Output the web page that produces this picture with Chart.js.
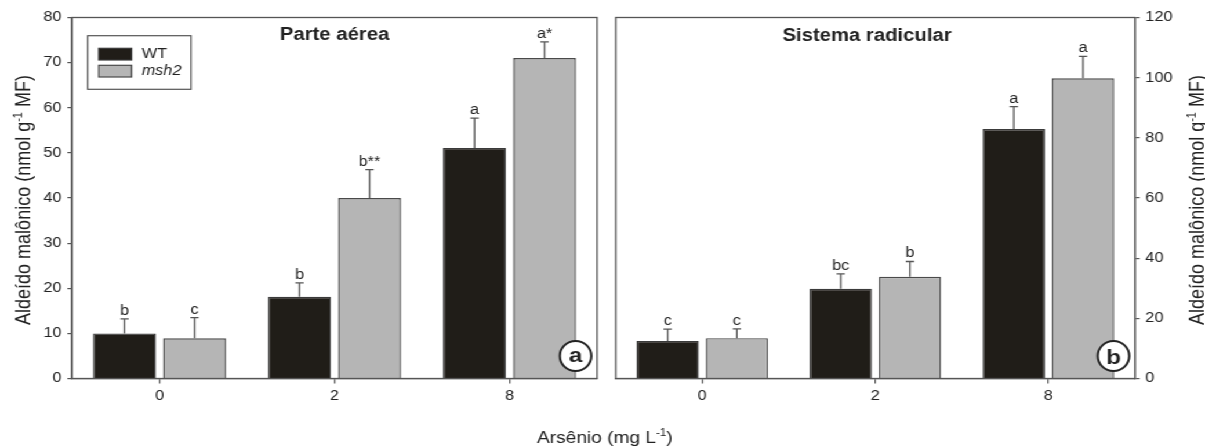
<!DOCTYPE html>
<html>
<head>
<meta charset="utf-8">
<script src="https://cdn.jsdelivr.net/npm/chart.js@4.4.1/dist/chart.umd.min.js"></script>
<style>
  html, body { margin: 0; padding: 0; background: #fff; overflow: hidden; }
  /* the figure is drawn on a narrower canvas and widened horizontally */
  #wrap { position: relative; width: 1039px; height: 446px; transform: scaleX(1.15977); transform-origin: 0 0; }
  #wrap canvas { position: absolute; left: 0; top: 0; }
</style>
</head>
<body>
<div id="wrap">
  <canvas id="shoot" width="1039" height="446"></canvas>
  <canvas id="root" width="1039" height="446"></canvas>
</div>
<script>
// Arsenic doses (mg L-1)
const doses = ['0', '2', '8'];
const seriesNames = ['WT', 'msh2'];

// Parte aérea: malondialdehyde (nmol g-1 MF), mean and SE
const shootWT = [10.0, 18.1, 51.1];
const shootWTErr = [3.2, 3.1, 6.6];
const shootWTLetters = ['b', 'b', 'a'];
const shootMsh2 = [8.9, 40.0, 71.0];
const shootMsh2Err = [4.6, 6.3, 3.6];
const shootMsh2Letters = ['c', 'b**', 'a*'];
const shootTicks = [0, 10, 20, 30, 40, 50, 60, 70, 80];

// Sistema radicular
const rootWT = [12.5, 29.8, 82.9];
const rootWTErr = [3.9, 5.0, 7.5];
const rootWTLetters = ['c', 'bc', 'a'];
const rootMsh2 = [13.4, 33.8, 99.8];
const rootMsh2Err = [3.1, 5.1, 7.3];
const rootMsh2Letters = ['c', 'b', 'a'];
const rootTicks = [0, 20, 40, 60, 80, 100, 120];

const FONT = '"Liberation Sans", Arial, Helvetica, sans-serif';
const INK = '#222222';
const AXIS = '#555555';
const WT_FILL = '#201d18', WT_EDGE = '#3a3a3a';
const MSH_FILL = '#b5b5b5', MSH_EDGE = '#4a4a4a';
const W = 1039, H = 446;
const AREA_TOP = 17.5, AREA_BOTTOM = 378.5;

function barDatasets(wt, wtErr, wtLet, msh, mshErr, mshLet) {
  return [
    { label: seriesNames[0], data: wt, err: wtErr, letters: wtLet,
      backgroundColor: WT_FILL, borderColor: WT_EDGE, borderWidth: 1.4,
      categoryPercentage: 0.8, barPercentage: 0.9 },
    { label: seriesNames[1], data: msh, err: mshErr, letters: mshLet,
      backgroundColor: MSH_FILL, borderColor: MSH_EDGE, borderWidth: 1.4,
      categoryPercentage: 0.8, barPercentage: 0.9 }
  ];
}

// error whiskers (upper half only) with the significance letters on top
const errorBars = {
  id: 'errorBars',
  afterDatasetsDraw(chart) {
    const ctx = chart.ctx, y = chart.scales.y;
    chart.data.datasets.forEach((ds, i) => {
      chart.getDatasetMeta(i).data.forEach((bar, j) => {
        const top = y.getPixelForValue(ds.data[j] + ds.err[j]);
        ctx.save();
        ctx.strokeStyle = AXIS;
        ctx.lineWidth = 1.3;
        ctx.beginPath();
        ctx.moveTo(bar.x, bar.y);
        ctx.lineTo(bar.x, top);
        ctx.moveTo(bar.x - 3.6, top);
        ctx.lineTo(bar.x + 3.6, top);
        ctx.stroke();
        ctx.fillStyle = INK;
        ctx.font = '14px ' + FONT;
        ctx.textAlign = 'center';
        ctx.textBaseline = 'alphabetic';
        ctx.fillText(ds.letters[j], bar.x, top - 4);
        ctx.restore();
      });
    });
  }
};

function drawWithSup(ctx, parts, x, y, align) {
  // parts: [text, supText, tail]
  const [a, s, b] = parts;
  ctx.font = ctx._mainFont;
  const wa = ctx.measureText(a).width, wb = ctx.measureText(b).width;
  ctx.font = ctx._supFont;
  const ws = ctx.measureText(s).width;
  let sx = align === 'center' ? x - (wa + ws + wb) / 2 : x;
  ctx.textAlign = 'left';
  ctx.font = ctx._mainFont; ctx.fillText(a, sx, y); sx += wa;
  ctx.font = ctx._supFont; ctx.fillText(s, sx, y - 7); sx += ws;
  ctx.font = ctx._mainFont; ctx.fillText(b, sx, y);
}

function framePlugin(cfg) {
  return {
    id: 'frame',
    afterDraw(chart) {
      const ctx = chart.ctx, a = chart.chartArea;
      ctx.save();
      // panel box
      ctx.strokeStyle = AXIS;
      ctx.lineWidth = 1.3;
      ctx.strokeRect(a.left, a.top, a.right - a.left, a.bottom - a.top);

      // panel title
      ctx.fillStyle = INK;
      ctx.font = 'bold 17.5px ' + FONT;
      ctx.textAlign = 'center';
      ctx.textBaseline = 'alphabetic';
      ctx.fillText(cfg.title, a.left + (a.right - a.left) * cfg.titlePos, cfg.titleBase);

      // circled panel tag
      const cx = a.right - 18.5, cy = a.bottom - 22.5;
      ctx.beginPath();
      ctx.ellipse(cx, cy, 13.6, 15, 0, 0, Math.PI * 2);
      ctx.fillStyle = '#ffffff';
      ctx.fill();
      ctx.lineWidth = 2;
      ctx.strokeStyle = '#222222';
      ctx.stroke();
      ctx.fillStyle = INK;
      ctx.font = 'bold 21px ' + FONT;
      const m = ctx.measureText(cfg.tag);
      ctx.fillText(cfg.tag, cx, cy + (m.actualBoundingBoxAscent - m.actualBoundingBoxDescent) / 2);

      // rotated y-axis title
      ctx.save();
      ctx.translate(cfg.yTitleX, (a.top + a.bottom) / 2 + 2);
      ctx.rotate(-Math.PI / 2);
      ctx.fillStyle = INK;
      ctx.textBaseline = 'alphabetic';
      ctx._mainFont = '18px ' + FONT;
      ctx._supFont = '11px ' + FONT;
      drawWithSup(ctx, ['Aldeído malônico (nmol g', '-1', ' MF)'], 0, 6.5, 'center');
      ctx.restore();

      // legend
      if (cfg.legend) {
        ctx.strokeStyle = AXIS;
        ctx.lineWidth = 1.2;
        ctx.strokeRect(75.6, 35.7, 89.1, 53.6);
        const rows = [48.3, 65.3];
        chart.data.datasets.forEach((ds, i) => {
          ctx.fillStyle = ds.backgroundColor;
          ctx.fillRect(85.1, rows[i], 28.4, 11.7);
          ctx.strokeStyle = ds.borderColor;
          ctx.lineWidth = 1.2;
          ctx.strokeRect(85.1, rows[i], 28.4, 11.7);
          ctx.fillStyle = INK;
          ctx.font = (i === 1 ? 'italic ' : '') + '14px ' + FONT;
          ctx.textAlign = 'left';
          ctx.textBaseline = 'middle';
          ctx.fillText(ds.label, 122.2, rows[i] + 6);
        });
      }

      // shared x-axis title
      if (cfg.xTitle) {
        ctx.fillStyle = INK;
        ctx.textBaseline = 'alphabetic';
        ctx._mainFont = '16.5px ' + FONT;
        ctx._supFont = '10px ' + FONT;
        drawWithSup(ctx, ['Arsênio (mg L', '-1', ')'], 521.5, 442.5, 'center');
      }
      ctx.restore();
    }
  };
}

function makeChart(id, cfg) {
  return new Chart(document.getElementById(id), {
    type: 'bar',
    data: { labels: doses, datasets: cfg.datasets },
    options: {
      responsive: false,
      animation: false,
      devicePixelRatio: 1,
      layout: { padding: { left: cfg.padL, right: cfg.padR, top: AREA_TOP, bottom: 0 } },
      plugins: { legend: { display: false }, tooltip: { enabled: false }, title: { display: false } },
      scales: {
        x: {
          offset: true,
          grid: { offset: false, drawOnChartArea: false, drawTicks: true, tickLength: 5, color: AXIS, lineWidth: 1.2 },
          border: { color: AXIS, width: 1.3 },
          ticks: { font: { family: FONT, size: 14 }, color: INK, padding: 4, maxRotation: 0 },
          afterFit(s) { s.height = H - AREA_BOTTOM; }
        },
        y: {
          position: cfg.yPos,
          min: 0,
          max: cfg.ticks[cfg.ticks.length - 1],
          afterBuildTicks(s) { s.ticks = cfg.ticks.map(v => ({ value: v })); },
          grid: { drawOnChartArea: false, drawTicks: true, tickLength: 4, color: AXIS, lineWidth: 1.2 },
          border: { color: AXIS, width: 1.3 },
          ticks: { font: { family: FONT, size: 14 }, color: INK, padding: 5 },
          afterFit(s) { s.width = cfg.yWidth; }
        }
      }
    },
    plugins: [errorBars, framePlugin(cfg)]
  });
}

makeChart('shoot', {
  datasets: barDatasets(shootWT, shootWTErr, shootWTLetters, shootMsh2, shootMsh2Err, shootMsh2Letters),
  ticks: shootTicks,
  yPos: 'left',
  yWidth: 62.1,
  padL: 0,
  padR: W - 514.8,
  title: 'Parte aérea',
  titlePos: 0.5,
  titleBase: 39.5,
  tag: 'a',
  yTitleX: 19.8,
  legend: true,
  xTitle: true
});

makeChart('root', {
  datasets: barDatasets(rootWT, rootWTErr, rootWTLetters, rootMsh2, rootMsh2Err, rootMsh2Letters),
  ticks: rootTicks,
  yPos: 'right',
  yWidth: W - 978.6,
  padL: 530.9,
  padR: 0,
  title: 'Sistema radicular',
  titlePos: 0.484,
  titleBase: 41,
  tag: 'b',
  yTitleX: 1031,
  legend: false,
  xTitle: false
});
</script>
</body>
</html>
